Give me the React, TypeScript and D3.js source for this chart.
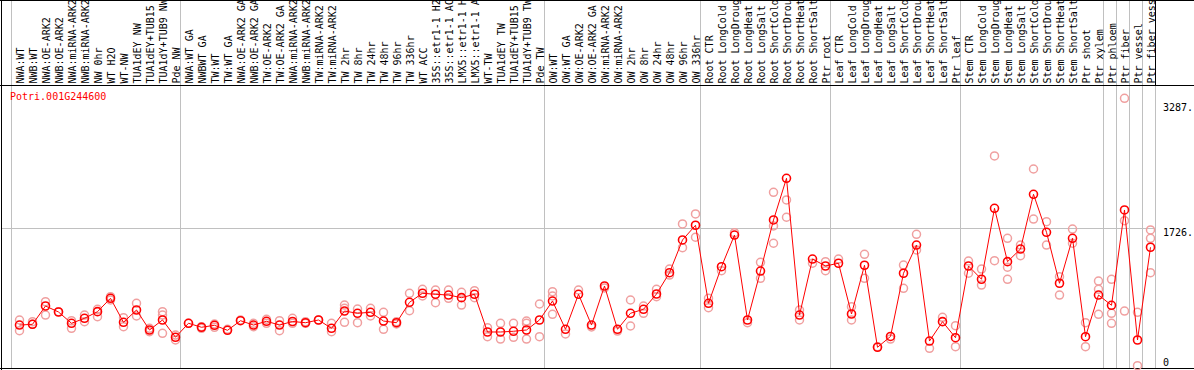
import * as d3 from 'd3'

const geneId = 'Potri.001G244600'

const sampleLabels = [
  'NWA:WT', 'NWB:WT', 'NWA:OE-ARK2', 'NWB:OE-ARK2', 'NWA:miRNA-ARK2', 'NWB:miRNA-ARK2',
  'NW 0hr', 'WT H2O', 'WT-NW', 'TUA1dEY NW', 'TUA1dEY+TUB15', 'TUA1dY+TUB9 NW', 'Pde NW',
  'NWA:WT GA', 'NWBWT GA', 'TW:WT', 'TW:WT GA', 'NWA:OE-ARK2 GA', 'NWB:OE-ARK2 GA',
  'TW:OE-ARK2', 'TW:OE-ARK2 GA', 'NWA:miRNA-ARK2', 'NWB:miRNA-ARK2', 'TW:miRNA-ARK2',
  'TW:miRNA-ARK2', 'TW 2hr', 'TW 8hr', 'TW 24hr', 'TW 48hr', 'TW 96hr', 'TW 336hr', 'WT ACC',
  '35S::etr1-1 H2O', '35S::etr1-1 ACC', 'LMX5::etr1-1 H2O', 'LMX5::etr1-1 ACC', 'WT-TW',
  'TUA1dEY TW', 'TUA1dEY+TUB15', 'TUA1dY+TUB9 TW', 'Pde TW',
  'OW:WT', 'OW:WT GA', 'OW:OE-ARK2', 'OW:OE-ARK2 GA', 'OW:miRNA-ARK2', 'OW:miRNA-ARK2',
  'OW 2hr', 'OW 8hr', 'OW 24hr', 'OW 48hr', 'OW 96hr', 'OW 336hr',
  'Root CTR', 'Root LongCold', 'Root LongDrought', 'Root LongHeat', 'Root LongSalt',
  'Root ShortCold', 'Root ShortDrought', 'Root ShortHeat', 'Root ShortSalt', 'Ptr root',
  'Leaf CTR', 'Leaf LongCold', 'Leaf LongDrought', 'Leaf LongHeat', 'Leaf LongSalt',
  'Leaf ShortCold', 'Leaf ShortDrought', 'Leaf ShortHeat', 'Leaf ShortSalt', 'Ptr leaf',
  'Stem CTR', 'Stem LongCold', 'Stem LongDrought', 'Stem LongHeat', 'Stem LongSalt',
  'Stem ShortCold', 'Stem ShortDrought', 'Stem ShortHeat', 'Stem ShortSalt', 'Ptr shoot',
  'Ptr xylem', 'Ptr phloem', 'Ptr fiber', 'Ptr vessel', 'Ptr fiber vessel',
]

// mean expression per sample
const meanValues = [
  512, 521, 750, 675, 534, 596, 679, 846, 546, 700, 450, 575, 359,
  534, 484, 509, 446, 566, 512, 559, 512, 556, 541, 575, 471, 687, 659, 671, 562, 541,
  796, 909, 896, 887, 854, 896, 425, 425, 434, 450, 575,
  812, 459, 896, 512, 1000, 459, 659, 709, 900, 1166, 1575, 1759,
  784, 1241, 1637, 575, 1187, 1825, 2346, 637, 1337, 1250,
  1284, 650, 1259, 234, 369, 1159, 1512, 312, 554, 354,
  1250, 1084, 1971, 1304, 1462, 2146, 1671, 1034, 1596, 366, 887,
  759, 1950, 325, 1484,
]

// replicate values per sample
const replicateValues = [
  [575, 441], [554, 521], [804, 637], [679], [566, 471], [637, 554], [709, 616], [866, 825],
  [604, 491], [784, 625], [471, 429], [679, 637, 409], [387, 325],
  [534], [491, 471], [525, 484], [459], [575], [534, 491], [584, 534], [566, 441], [596, 534],
  [554, 534], [575], [534, 429], [762, 721, 546], [712, 541], [721, 625], [671, 459], [554, 525],
  [909, 691], [959, 875], [950, 791], [950, 846], [921, 762], [941, 854], [479, 366],
  [534, 337], [534, 359], [562, 534, 337], [775, 366],
  [929, 875, 646], [400], [950], [488], [975], [437], [825, 500], [750, 659], [959, 866],
  [1212, 1137], [1775, 1479], [1900, 1609],
  [846, 729], [1191], [1666], [541], [1296, 1096], [2171, 1750, 1534], [2075, 1859],
  [700, 575], [1284], [1304, 1191],
  [1337], [741, 575], [1396, 1096], [241], [337], [1262, 971], [1646, 1450], [221], [609],
  [504, 241],
  [1312, 1159], [1212, 1012], [2625, 1316], [1596, 1234, 1084], [1512, 1379], [2462, 1837],
  [1804, 1512], [1116, 887], [1712, 1534], [541, 241], [1062, 959, 646],
  [1084, 659, 534], [3346, 1816, 687], [671, 4], [1700, 1596, 1166],
]

const groupStarts = [0, 13, 41, 53, 63, 73, 84, 85, 86, 87]
const yTicks = [3287, 1726, 0]

const width = 1194
const height = 370
const headerBottom = 86
const plotBottom = 368
const colW = 13
const fontFamily = '"DejaVu Sans Mono", "Liberation Mono", monospace'

const App = () => {
  const n = sampleLabels.length
  const x = d3.scaleLinear().domain([0, n]).range([11, 11 + colW * n])
  const y = d3.scaleLinear().domain([0, 3287]).range([366, 103])
  const cx = (i: number) => x(i) + 8.5

  const line = d3
    .line<number>()
    .x((_, i) => cx(i))
    .y((d) => y(d))

  const plotRight = x(n)

  return (
    <svg
      width={width}
      height={height}
      style={{ position: 'absolute', left: 0, top: 0, background: '#fff' }}
      fontFamily={fontFamily}
    >
      {/* group separators */}
      {groupStarts.map((g) => (
        <line key={g} x1={x(g) + 0.5} x2={x(g) + 0.5} y1={0} y2={plotBottom} stroke="#c0c0c0" />
      ))}
      <line x1={plotRight + 0.5} x2={plotRight + 0.5} y1={0} y2={headerBottom} stroke="#000" />
      <line x1={plotRight + 0.5} x2={plotRight + 0.5} y1={headerBottom} y2={plotBottom} stroke="#c0c0c0" />
      <line x1={1} x2={plotRight} y1={Math.round(y(1726)) + 0.5} y2={Math.round(y(1726)) + 0.5} stroke="#c0c0c0" />

      {/* frame */}
      <line x1={0} x2={width} y1={0.5} y2={0.5} stroke="#000" />
      <line x1={0} x2={width} y1={headerBottom - 0.5} y2={headerBottom - 0.5} stroke="#000" />
      <line x1={0} x2={width} y1={plotBottom + 0.5} y2={plotBottom + 0.5} stroke="#000" />
      <line x1={1.5} x2={1.5} y1={0} y2={height} stroke="#000" />

      {/* sample labels */}
      {sampleLabels.map((label, i) => (
        <text
          key={i}
          transform={`translate(${x(i) + 13},${83.5}) rotate(-90)`}
          fontSize={10}
          fill="#000"
        >
          {label}
        </text>
      ))}

      {/* y labels */}
      {yTicks.map((t) => (
        <text key={t} x={1163} y={t === 0 ? y(0) : y(t) + 8} fontSize={10} fill="#000">
          {t === 0 ? '0' : `${t}.`}
        </text>
      ))}

      <text x={10} y={100} fontSize={10} fill="#ff0000">
        {geneId}
      </text>

      {/* replicates */}
      {replicateValues.map((reps, i) =>
        reps.map((v, j) => (
          <circle
            key={`${i}-${j}`}
            cx={cx(i)}
            cy={y(v)}
            r={4}
            fill="none"
            stroke="#f0a0a0"
            strokeWidth={1.5}
          />
        ))
      )}

      <path d={line(meanValues) ?? ''} fill="none" stroke="#ff0000" strokeWidth={1} />

      {meanValues.map((v, i) => (
        <circle key={i} cx={cx(i)} cy={y(v)} r={4} fill="none" stroke="#ff0000" strokeWidth={1.6} />
      ))}
    </svg>
  )
}

export default App
